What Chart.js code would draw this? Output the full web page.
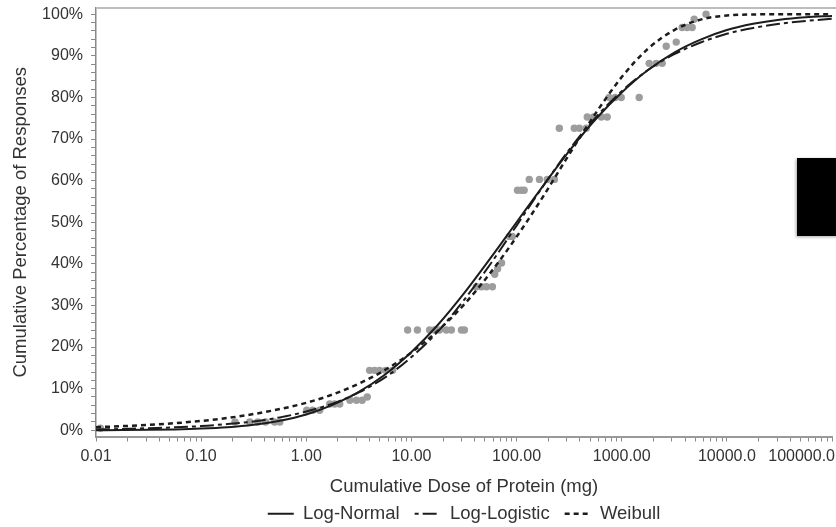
<!DOCTYPE html>
<html lang="en">
<head>
  <meta charset="UTF-8">
  <title>Cumulative Dose of Protein</title>
  <script src="https://cdn.jsdelivr.net/npm/chart.js"></script>
  <style>
    html, body { margin: 0; padding: 0; background: #fff; }
    .wrap { position: relative; width: 836px; height: 527px; overflow: hidden; }
    .blackout {
      position: absolute; left: 797px; top: 158px; width: 45px; height: 78px;
      background: #000; box-shadow: -1px 1px 3px rgba(0, 0, 0, 0.35);
    }
  </style>
</head>
<body>
  <div class="wrap">
    <canvas id="doseChart" width="836" height="527"></canvas>
    <div class="blackout"></div>
  </div>

  <script>
    const FONT = '"Liberation Sans", Arial, sans-serif';
    const TEXT = '#333';

    // fitted curves, sampled every quarter decade
    const curveDose = [0.01, 0.0178, 0.0316, 0.0562, 0.1, 0.178, 0.316, 0.562, 1, 1.78, 3.16, 5.62,
      10, 17.8, 31.6, 56.2, 100, 178, 316, 562, 1000, 1778, 3162, 5623, 10000, 17783, 31623, 56234, 100000];
    const logNormal = [0.02, 0.05, 0.1, 0.2, 0.4, 0.75, 1.35, 2.3, 3.8, 6.1, 9.2, 13.4,
      18.8, 25.3, 32.9, 41.3, 50.0, 58.7, 67.1, 74.7, 81.2, 86.6, 90.8, 93.9, 96.2, 97.7, 98.7, 99.3, 99.6];
    const logLogistic = [0.2, 0.3, 0.5, 0.7, 1.0, 1.5, 2.1, 3.1, 4.5, 6.4, 9.1, 12.7,
      17.6, 23.7, 31.3, 39.9, 49.2, 58.6, 67.4, 75.1, 81.5, 86.6, 90.4, 93.2, 95.3, 96.7, 97.7, 98.4, 98.9];
    const weibull = [0.75, 0.99, 1.3, 1.7, 2.25, 2.95, 3.9, 5.1, 6.6, 8.6, 11.2, 14.5,
      18.7, 23.9, 30.2, 37.8, 46.5, 56.1, 66.3, 76.1, 84.9, 91.7, 96.2, 98.7, 99.7, 99.95, 100, 100, 100];

    // observed cumulative responses
    const obsDose = [0.011, 0.21, 0.29, 0.345, 0.41, 0.5, 0.56,
      1.01, 1.15, 1.34, 1.67, 1.86, 2.08, 2.6, 3.0, 3.4, 3.8,
      4.0, 4.47, 4.98, 5.68, 6.62,
      9.2, 11.4, 14.9, 16.6, 18.5, 21.5, 24.0, 29.9, 31.9,
      41.5, 46.3, 51.7, 58.9, 62, 66, 72, 85.5, 91,
      102, 111, 118, 132, 165, 196, 229,
      255, 354, 395, 460, 470, 540, 640, 728,
      760, 867, 990, 1466, 1824, 2128, 2427, 2650, 3300,
      3760, 4190, 4680, 4890, 6340];
    const obsPct = [0.5, 2.0, 2.0, 2.0, 2.0, 2.0, 2.0,
      4.8, 4.8, 4.8, 6.3, 6.3, 6.3, 7.2, 7.2, 7.2, 8.0,
      14.4, 14.4, 14.4, 14.4, 14.4,
      24.1, 24.1, 24.1, 24.1, 24.1, 24.1, 24.1, 24.1, 24.1,
      34.5, 34.5, 34.5, 34.5, 37.5, 38.8, 40.2, 46.6, 46.6,
      57.7, 57.7, 57.7, 60.3, 60.3, 60.3, 60.3,
      72.6, 72.6, 72.6, 72.6, 75.3, 75.3, 75.3, 75.3,
      80.0, 80.0, 80.0, 80.0, 88.2, 88.2, 88.2, 92.3, 93.3,
      96.8, 96.8, 96.8, 98.8, 100];

    const xDecades = [0.01, 0.1, 1, 10, 100, 1000, 10000, 100000];
    const xTickLabels = ['0.01', '0.10', '1.00', '10.00', '100.00', '1000.00', '10000.0', '100000.0'];
    const yTickStep = 2;
    const yLabelStep = 10;

    const toPoints = (xs, ys) => xs.map((x, i) => ({ x, y: ys[i] }));

    // decade labels under the log axis; the last one is kept inside the canvas
    const axisExtras = {
      id: 'axisExtras',
      afterDraw(chart) {
        const { ctx, chartArea } = chart;
        const xs = chart.scales.x;
        ctx.save();
        ctx.font = '16px ' + FONT;
        ctx.fillStyle = TEXT;
        ctx.textAlign = 'center';
        ctx.textBaseline = 'middle';
        xDecades.forEach((v, i) => {
          const text = xTickLabels[i];
          const w = ctx.measureText(text).width;
          const px = Math.min(xs.getPixelForValue(v), chart.width - w / 2 - 1);
          ctx.fillText(text, px, xs.top + 20);
        });
        // light frame line along the top of the plot
        ctx.strokeStyle = '#bdbdbd';
        ctx.lineWidth = 2;
        ctx.beginPath();
        ctx.moveTo(chartArea.left, chartArea.top);
        ctx.lineTo(chart.width, chartArea.top);
        ctx.stroke();
        ctx.restore();
      }
    };

    const lineDefaults = {
      borderColor: '#1c1c1c',
      backgroundColor: '#1c1c1c',
      borderWidth: 2,
      pointRadius: 0,
      fill: false,
      cubicInterpolationMode: 'monotone'
    };

    new Chart(document.getElementById('doseChart'), {
      type: 'line',
      data: {
        datasets: [
          { ...lineDefaults, label: 'Log-Normal', data: toPoints(curveDose, logNormal) },
          { ...lineDefaults, label: 'Log-Logistic', data: toPoints(curveDose, logLogistic), borderDash: [14, 4, 4, 4], legendDashOffset: 18 },
          { ...lineDefaults, label: 'Weibull', data: toPoints(curveDose, weibull), borderDash: [5, 4], borderWidth: 2.5 },
          {
            type: 'scatter', label: 'Observed', data: toPoints(obsDose, obsPct),
            pointRadius: 3.7, pointBackgroundColor: '#9d9d9d', pointBorderWidth: 0, showLine: false
          }
        ]
      },
      options: {
        responsive: false,
        animation: false,
        devicePixelRatio: 1,
        layout: { padding: { top: 8, left: 0, right: 3, bottom: -6 } },
        plugins: {
          tooltip: { enabled: false },
          legend: {
            position: 'bottom',
            fullSize: false,
            labels: {
              // keep each line's dash pattern in its legend sample
              generateLabels: chart => Chart.defaults.plugins.legend.labels.generateLabels(chart).map(item => {
                const ds = chart.data.datasets[item.datasetIndex];
                return {
                  ...item,
                  pointStyle: 'line',
                  lineWidth: ds.borderWidth,
                  lineDash: ds.borderDash || [],
                  lineDashOffset: ds.legendDashOffset || 0
                };
              }),
              filter: item => item.datasetIndex < 3,
              usePointStyle: true,
              pointStyle: 'line',
              pointStyleWidth: 26,
              padding: 15,
              color: TEXT,
              font: { family: FONT, size: 18.5 }
            }
          }
        },
        scales: {
          x: {
            type: 'logarithmic',
            min: 0.01,
            max: 100000,
            afterBuildTicks: scale => {
              const ticks = [];
              xDecades.forEach((d, i) => {
                const n = i === xDecades.length - 1 ? 1 : 9;
                for (let m = 1; m <= n; m++) ticks.push({ value: m * d, major: m === 1 });
              });
              scale.ticks = ticks;
            },
            afterFit: scale => {
              scale.height = 53;
              scale.paddingLeft = 0;
              scale.paddingRight = 0;
            },
            ticks: { autoSkip: false, maxRotation: 0, callback: () => '' },
            grid: { drawOnChartArea: false, drawTicks: true, tickLength: 5, tickColor: '#8a8a8a', tickWidth: 1 },
            border: { display: true, color: '#999', width: 2 },
            title: {
              display: true,
              text: 'Cumulative Dose of Protein (mg)',
              color: TEXT,
              font: { family: FONT, size: 18.5 },
              padding: { top: 0, bottom: -8.6 }
            }
          },
          y: {
            type: 'linear',
            min: -1.5,
            max: 101.5,
            afterBuildTicks: scale => {
              const ticks = [];
              for (let v = 0; v <= 100; v += yTickStep) ticks.push({ value: v });
              scale.ticks = ticks;
            },
            afterFit: scale => {
              scale.width = 96;
              scale.paddingTop = 0;
              scale.paddingBottom = 0;
            },
            ticks: {
              autoSkip: false,
              padding: 8,
              color: TEXT,
              font: { family: FONT, size: 16 },
              callback: v => (v % yLabelStep === 0 ? v + '%' : '')
            },
            grid: { drawOnChartArea: false, drawTicks: true, tickLength: 5, tickColor: '#8a8a8a', tickWidth: 1 },
            border: { display: true, color: '#8a8a8a', width: 1.5 },
            title: {
              display: true,
              text: 'Cumulative Percentage of Responses',
              color: TEXT,
              font: { family: FONT, size: 18.5 },
              padding: { top: 10, bottom: 0 }
            }
          }
        }
      },
      plugins: [axisExtras]
    });
  </script>
</body>
</html>
